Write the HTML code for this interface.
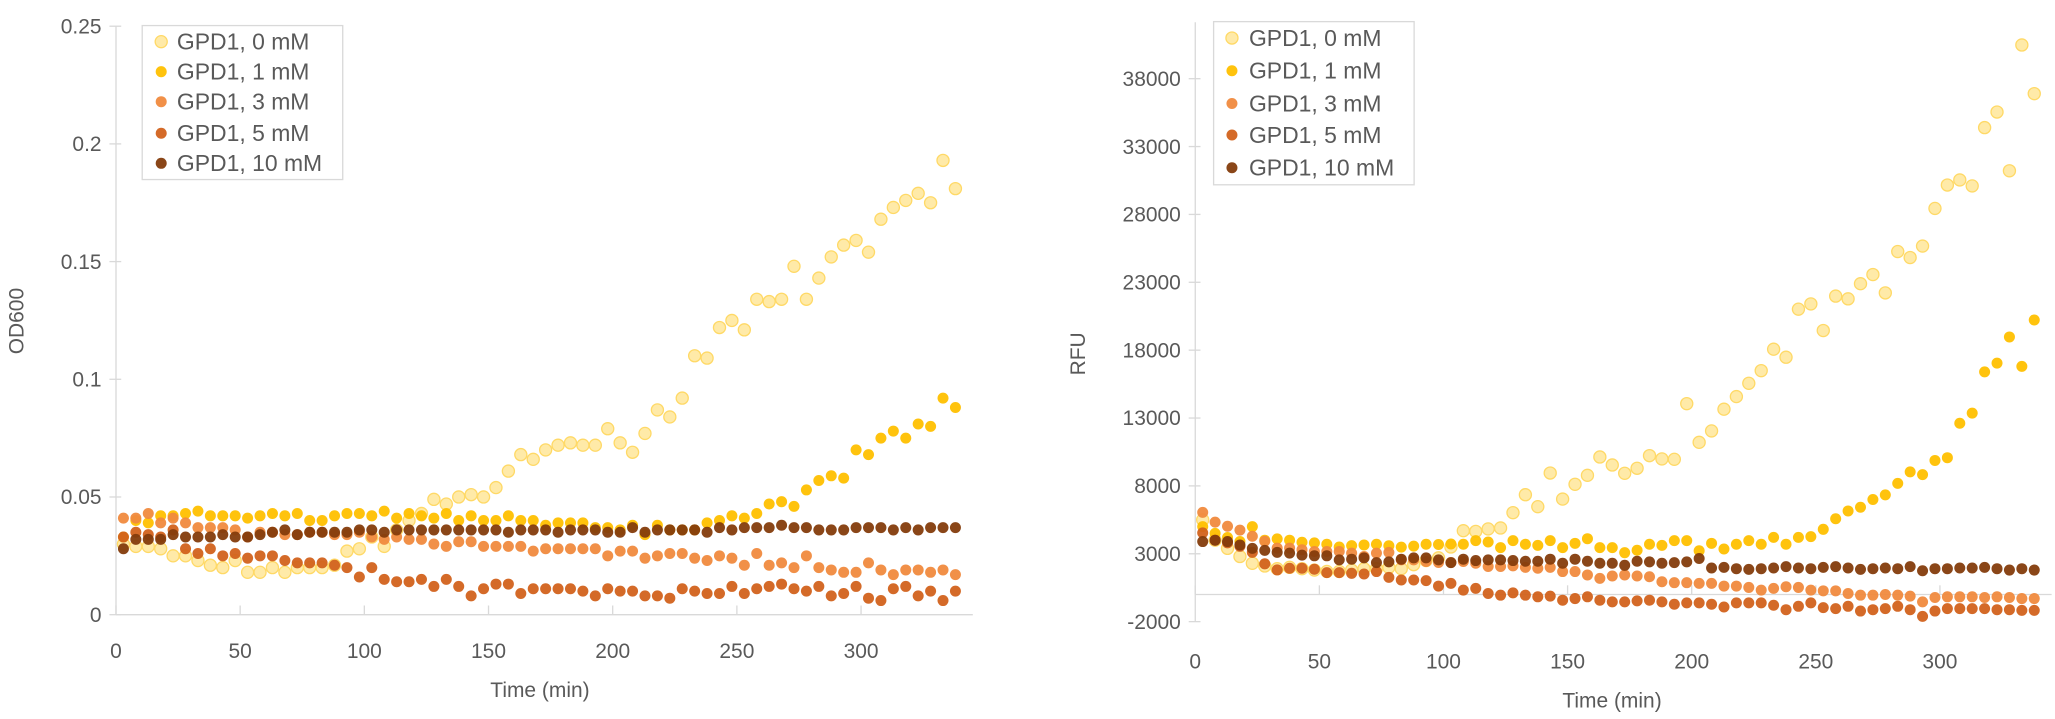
<!DOCTYPE html>
<html><head><meta charset="utf-8"><style>
html,body{margin:0;padding:0;background:#fff;}
svg{display:block;font-family:"Liberation Sans",sans-serif;}
text{fill:#595959;}
</style></head><body>
<svg id="root" width="2055" height="719" viewBox="0 0 1568 548.6" preserveAspectRatio="none">
<g id="left"></g>
<g id="right"></g>
</svg>
<script>
const times = [];
for (let t = 3; t <= 338; t += 5) times.push(t);
const seriesNames = ["GPD1, 0 mM","GPD1, 1 mM","GPD1, 3 mM","GPD1, 5 mM","GPD1, 10 mM"];
const odTicks = [0,0.05,0.1,0.15,0.2,0.25];
const odTickLabels = ["0","0.05","0.1","0.15","0.2","0.25"];
const rfuTicks = [-2000,3000,8000,13000,18000,23000,28000,33000,38000];
const timeTicks = [0,50,100,150,200,250,300];
const od0 = [0.030,0.029,0.029,0.028,0.025,0.025,0.023,0.021,0.020,0.023,0.018,0.018,0.020,0.018,0.020,0.020,0.020,0.021,0.027,0.028,0.033,0.029,0.036,0.040,0.043,0.049,0.047,0.050,0.051,0.050,0.054,0.061,0.068,0.066,0.070,0.072,0.073,0.072,0.072,0.079,0.073,0.069,0.077,0.087,0.084,0.092,0.110,0.109,0.122,0.125,0.121,0.134,0.133,0.134,0.148,0.134,0.143,0.152,0.157,0.159,0.154,0.168,0.173,0.176,0.179,0.175,0.193,0.181];
const od1 = [0.033,0.040,0.039,0.042,0.042,0.043,0.044,0.042,0.042,0.042,0.041,0.042,0.043,0.042,0.043,0.040,0.040,0.042,0.043,0.043,0.042,0.044,0.041,0.043,0.042,0.041,0.043,0.040,0.042,0.040,0.040,0.042,0.040,0.040,0.038,0.039,0.039,0.039,0.037,0.037,0.036,0.038,0.034,0.038,0.036,0.036,0.036,0.039,0.040,0.042,0.041,0.043,0.047,0.048,0.046,0.053,0.057,0.059,0.058,0.070,0.068,0.075,0.078,0.075,0.081,0.080,0.092,0.088];
const od3 = [0.041,0.041,0.043,0.039,0.041,0.039,0.037,0.037,0.037,0.036,0.033,0.035,0.035,0.034,0.034,0.035,0.035,0.034,0.034,0.035,0.033,0.032,0.033,0.032,0.032,0.030,0.029,0.031,0.031,0.029,0.029,0.029,0.029,0.027,0.028,0.028,0.028,0.028,0.028,0.025,0.027,0.027,0.024,0.025,0.026,0.026,0.024,0.023,0.025,0.024,0.021,0.026,0.021,0.022,0.020,0.025,0.020,0.019,0.018,0.018,0.022,0.019,0.017,0.019,0.019,0.018,0.019,0.017];
const od5 = [0.033,0.035,0.034,0.033,0.036,0.028,0.026,0.028,0.025,0.026,0.024,0.025,0.025,0.023,0.022,0.022,0.022,0.021,0.020,0.016,0.020,0.015,0.014,0.014,0.015,0.012,0.015,0.012,0.008,0.011,0.013,0.013,0.009,0.011,0.011,0.011,0.011,0.010,0.008,0.011,0.010,0.010,0.008,0.008,0.007,0.011,0.010,0.009,0.009,0.012,0.009,0.011,0.012,0.013,0.011,0.010,0.012,0.008,0.009,0.012,0.007,0.006,0.011,0.012,0.008,0.010,0.006,0.010];
const od10 = [0.028,0.032,0.032,0.032,0.034,0.033,0.033,0.033,0.034,0.033,0.033,0.034,0.035,0.036,0.034,0.035,0.035,0.035,0.035,0.036,0.036,0.035,0.036,0.036,0.036,0.036,0.036,0.036,0.036,0.036,0.036,0.035,0.036,0.036,0.036,0.035,0.036,0.036,0.036,0.035,0.035,0.037,0.035,0.036,0.036,0.036,0.036,0.035,0.037,0.036,0.037,0.037,0.037,0.038,0.037,0.037,0.036,0.036,0.036,0.037,0.037,0.037,0.036,0.037,0.036,0.037,0.037,0.037];
const rfu0 = [5500,4000,3400,2800,2300,2100,1900,2000,1900,1800,1700,1700,1800,1900,1900,2000,1900,2200,2500,2700,3500,4700,4650,4830,4900,6030,7350,6470,8950,7030,8120,8780,10130,9540,8930,9300,10230,9990,9960,14060,11210,12050,13650,14580,15560,16490,18070,17480,21020,21408,19446,21983,21780,22896,23572,22220,25264,24824,25669,28442,30167,30539,30099,34395,35545,31216,40483,36897];
const rfu1 = [5000,4500,4200,3900,5000,4000,4100,4000,3850,3800,3700,3500,3600,3650,3700,3590,3490,3560,3700,3680,3720,3700,3970,3870,3450,3970,3700,3620,3970,3450,3770,4110,3450,3450,3080,3260,3700,3620,3970,3970,3220,3770,3350,3700,3970,3700,4210,3700,4210,4261,4802,5580,6155,6426,7000,7340,8185,9030,8830,9875,10078,12615,13359,16403,17045,18973,16808,20223];
const rfu3 = [6050,5330,5030,4740,4290,3920,3420,3420,3300,3170,3170,3170,3050,2800,3050,3100,2550,2550,2430,2360,2360,2430,2300,2060,2060,2110,2000,1930,2000,1690,1690,1440,1190,1360,1440,1360,1310,940,870,870,820,820,620,620,520,320,450,570,520,320,270,270,70,-50,-50,0,-50,-120,-545,-220,-170,-170,-170,-220,-170,-220,-300,-300];
const rfu5 = [4540,4000,3800,3550,3100,2260,1810,1930,1930,1860,1610,1610,1560,1510,1690,1260,1070,1070,1020,620,820,320,450,70,-50,120,-50,-170,-120,-420,-300,-170,-420,-545,-545,-470,-420,-545,-720,-620,-620,-720,-920,-620,-620,-620,-790,-1120,-870,-620,-970,-1040,-870,-1220,-1120,-1040,-870,-1120,-1610,-1220,-1040,-1040,-1040,-1040,-1120,-1120,-1170,-1170];
const rfu10 = [3900,4000,3900,3650,3400,3250,3100,3050,2900,2850,2850,2550,2600,2700,2350,2400,2600,2700,2700,2550,2350,2600,2500,2550,2550,2500,2450,2450,2600,2300,2600,2450,2300,2300,2150,2450,2400,2300,2350,2400,2650,1950,2000,1900,1850,1900,1950,2050,1950,1900,2000,2050,1950,1850,1900,1950,1900,2050,1750,1900,1900,1950,1950,2000,1900,1800,1900,1800];

const NS = "http://www.w3.org/2000/svg";
const fills = ["#FFE699","#FFC000","#F08A3E","#D2621C","#843C0C"];
function mk(parent, tag, attrs, txt) {
  const e = document.createElementNS(NS, tag);
  for (const k in attrs) e.setAttribute(k, attrs[k]);
  if (txt !== undefined) e.textContent = txt;
  parent.appendChild(e);
  return e;
}
function dot(parent, cx, cy, i) {
  if (i === 0) return mk(parent, "circle", {cx: cx, cy: cy, r: 4.6, fill: "#FFE699", "fill-opacity": 0.85, stroke: "#FFD966", "stroke-width": 1});
  return mk(parent, "circle", {cx: cx, cy: cy, r: 4.2, fill: fills[i], "fill-opacity": 0.95});
}

function chart(g, cfg) {
  const X = t => cfg.x0 + t * cfg.kx;
  const Y = v => cfg.yZero - (v - 0) * cfg.ky;
  const ax = mk(g, "line", {x1: cfg.x0, y1: cfg.yTop, x2: cfg.x0, y2: cfg.yBot, stroke: "#D9D9D9", "stroke-width": 1});
  
  
  const hx = mk(g, "line", {x1: cfg.x0, y1: cfg.yZero, x2: X(cfg.xMax), y2: cfg.yZero, stroke: "#D9D9D9", "stroke-width": 1});
  
  
  cfg.yTicks.forEach((v, j) => {
    const y = Y(v);
    const tk = mk(g, "line", {x1: cfg.x0 - 5, y1: y, x2: cfg.x0 + 4, y2: y, stroke: "#D9D9D9", "stroke-width": 1});
    
    
    const lb = mk(g, "text", {x: cfg.x0 - 11, y: y + 5.5, "text-anchor": "end", "font-size": 16}, cfg.yLabels[j]);
    
    
  });
  timeTicks.forEach(t => {
    const x = X(t);
    const tk = mk(g, "line", {x1: x, y1: cfg.yZero - 7, x2: x, y2: cfg.yZero, stroke: "#D9D9D9", "stroke-width": 1});
    
    
    const lb = mk(g, "text", {x: x, y: cfg.xLabY, "text-anchor": "middle", "font-size": 16}, String(t));
    
    
  });
  const xt = mk(g, "text", {x: cfg.xTitleX, y: cfg.xTitleY, "text-anchor": "middle", "font-size": 16}, "Time (min)");
  
  
  const yt = mk(g, "text", {x: 0, y: 0, "text-anchor": "middle", "font-size": 16, transform: "translate(" + cfg.yTitleX + "," + cfg.yTitleY + ") rotate(-90)"}, cfg.yTitle);
  
  
  cfg.series.forEach((vals, i) => {
    const sg = mk(g, "g", {});
    
    
    vals.forEach((v, j) => {
      const c = dot(sg, X(times[j]), Y(v), i);
      
      
    });
  });
  const lg = mk(g, "g", {});
  
  
  const L = cfg.legend;
  mk(lg, "rect", {x: L.x, y: L.y, width: L.w, height: L.h, fill: "#fff", stroke: "#D9D9D9", "stroke-width": 1});
  seriesNames.forEach((n, i) => {
    const ry = L.rows[i];
    const e = mk(lg, "g", {});
    
    
    dot(e, L.mx, ry, i);
    mk(e, "text", {x: L.tx, y: ry + 6, "font-size": 17.5}, n);
  });
}

chart(document.getElementById("left"), {
  x0: 88.5, kx: 1.895, xMax: 345, yZero: 469, ky: 1796, yTop: 20, yBot: 469,
  yTicks: odTicks, yLabels: odTickLabels, xLabY: 502, xTitleX: 412, xTitleY: 532,
  yTitle: "OD600", yTitleX: 18, yTitleY: 245,
  series: [od0, od1, od3, od5, od10],
  legend: {x: 108.5, y: 19.5, w: 153, h: 117.5, mx: 123, tx: 135, rows: [31.8, 54.7, 77.6, 101.7, 124.6]}
});
chart(document.getElementById("right"), {
  x0: 912, kx: 1.894, xMax: 345, yZero: 453.6, ky: 0.010357, yTop: 17, yBot: 474.3,
  yTicks: rfuTicks, yLabels: rfuTicks.map(String), xLabY: 510, xTitleX: 1230, xTitleY: 540,
  yTitle: "RFU", yTitleX: 828, yTitleY: 270,
  series: [rfu0, rfu1, rfu3, rfu5, rfu10],
  legend: {x: 926, y: 16.5, w: 153, h: 124.5, mx: 940, tx: 953, rows: [29, 54, 79, 103, 128]}
});
</script>
</body></html>
